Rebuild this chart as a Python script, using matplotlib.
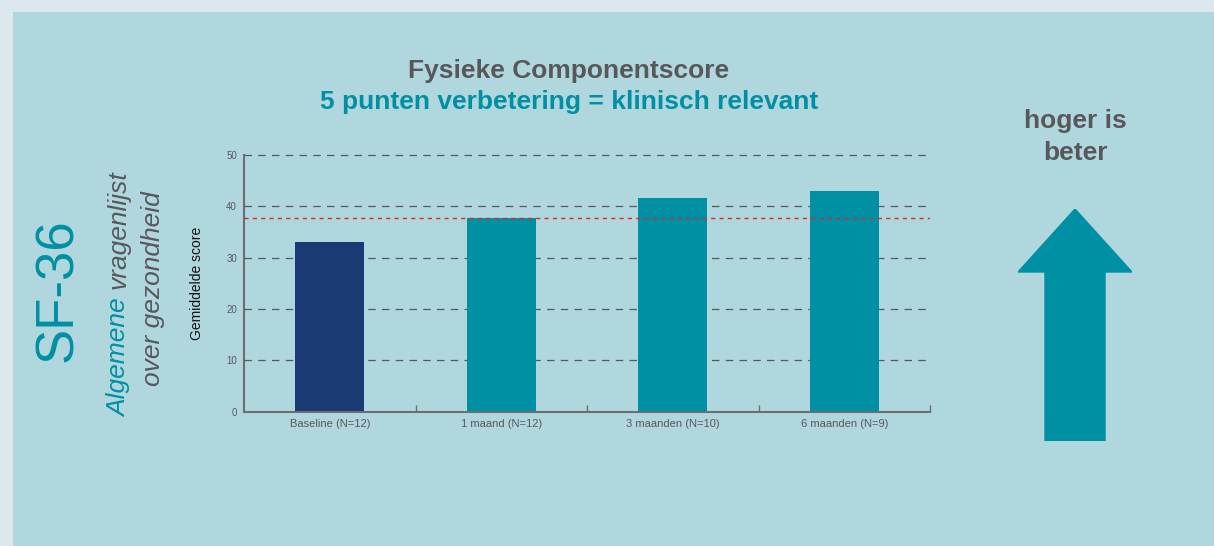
import matplotlib.pyplot as plt
import matplotlib.patches as mpatches

# data
categories = ['Baseline (N=12)', '1 maand (N=12)', '3 maanden (N=10)', '6 maanden (N=9)']
scores = [33.0, 37.7, 41.6, 43.0]
bar_colors = ['#1b3a73', '#0090a3', '#0090a3', '#0090a3']
relevant_line = 37.7
y_ticks = [0, 10, 20, 30, 40, 50]

OUTER = '#dde8ee'
PANEL = '#b0d7de'
TEAL = '#0090a3'
GRAY = '#58585b'

plt.rcParams['font.family'] = ['Liberation Sans', 'DejaVu Sans']

fig = plt.figure(figsize=(12.14, 5.46), dpi=100, facecolor=OUTER)
W, H = 1214, 546

# panel background (behind everything)
fig.patches.append(mpatches.Rectangle((13 / W, 0), 1 - 13 / W, 534 / H,
                                      transform=fig.transFigure,
                                      facecolor=PANEL, edgecolor='none', zorder=-5))

ax = fig.add_axes([244 / W, (H - 411.7) / H, 686 / W, 256.7 / H])
ax.set_facecolor('none')

x = [i + 0.5 for i in range(len(categories))]
ax.bar(x, scores, width=0.4, color=bar_colors, zorder=2)
ax.axhline(relevant_line, color='#e8202a', linestyle=(0, (3, 3)), linewidth=1.0, zorder=3)

ax.set_xlim(0, 4)
ax.set_ylim(0, 50)
ax.set_yticks(y_ticks)
for t in y_ticks[1:]:
    ax.axhline(t, color='#55585c', linestyle=(0, (6, 5)), linewidth=0.9, zorder=1, clip_on=False)

ax.set_xticks(x)
ax.set_xticklabels(categories, fontsize=8, color=GRAY)
ax.tick_params(axis='x', length=0, pad=5)
ax.set_xticks([1, 2, 3, 4], minor=True)
ax.tick_params(axis='x', which='minor', direction='in', length=5, color='#6b6e72', width=1)
ax.tick_params(axis='y', length=0, labelsize=7, labelcolor=GRAY, pad=5)

for s in ['top', 'right']:
    ax.spines[s].set_visible(False)
for s in ['left', 'bottom']:
    ax.spines[s].set_color('#6b6e72')
    ax.spines[s].set_linewidth(1.5)

ax.set_ylabel('Gemiddelde score', fontsize=10, color='#111111', labelpad=16)

# titles
fig.text(569 / W, 1 - 71 / H, 'Fysieke Componentscore', ha='center', va='center',
         fontsize=19, fontweight='bold', color=GRAY)
fig.text(569 / W, 1 - 102 / H, '5 punten verbetering = klinisch relevant', ha='center',
         va='center', fontsize=19, fontweight='bold', color=TEAL)

# left side labels
fig.text(58 / W, 1 - 290 / H, 'SF-36', rotation=90, ha='center', va='center',
         fontsize=38, color=TEAL)

# "Algemene vragenlijst": two colours on one rotated line
renderer = fig.canvas.get_renderer()
part1 = fig.text(119 / W, 1 - 417 / H, 'Algemene', rotation=90, ha='center',
                 va='bottom', fontsize=19, style='italic', color=TEAL)
ext = part1.get_window_extent(renderer)
fig.text(119 / W, (ext.y1 + 9) / H, 'vragenlijst', rotation=90, ha='center', va='bottom',
         fontsize=19, style='italic', color=GRAY)
fig.text(153 / W, 1 - 289 / H, 'over gezondheid', rotation=90, ha='center', va='center',
         fontsize=19, style='italic', color=GRAY)

# right side
fig.text(1075 / W, 1 - 137 / H, 'hoger is\nbeter', ha='center', va='center',
         fontsize=19, fontweight='bold', color=GRAY, linespacing=1.4)

arrow_ax = fig.add_axes([1018 / W, (H - 441) / H, 114 / W, 232 / H])
arrow_ax.set_xlim(0, 1)
arrow_ax.set_ylim(0, 1)
arrow_ax.axis('off')
arrow_ax.add_patch(mpatches.FancyArrow(0.5, 0, 0, 1, width=60 / 114, head_width=1.0,
                                       head_length=63 / 232, length_includes_head=True,
                                       color=TEAL))

fig.savefig('out.png', dpi=100, facecolor=OUTER)
